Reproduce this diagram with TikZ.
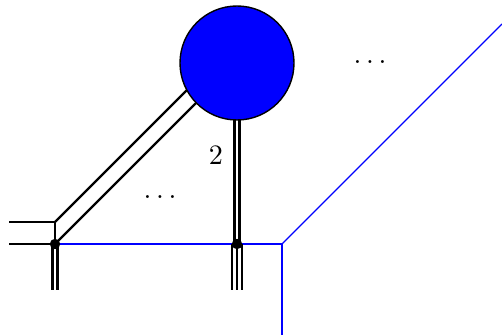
\documentclass[tikz,border=0pt]{standalone}
\usepackage{tikz}
\usetikzlibrary{calc,positioning}

\begin{document}
\begin{tikzpicture}[
  leg/.style={line width=0.8pt},
  bond/.style={blue, line width=0.4pt},
  vertex/.style={circle, fill=black, inner sep=0pt, minimum size=0.13cm}]
  \useasboundingbox (0,0) rectangle (6.275,4.1875);

  % corners of the lattice
  \coordinate (lc) at (0.6875,1.4125);
  \coordinate (bc) at (3.525,1.1375);
  \coordinate (bb) at (3.525,0);
  \coordinate (bt) at (6.275,3.8875);
  \coordinate (l1) at (0.1125,1.4125);
  \coordinate (l2) at (0.1125,1.1375);
  \coordinate (lb) at (0.6875,0.5625);
  \coordinate (rb) at (2.9625,0.5625);
  \coordinate (bcen) at (2.9625,3.4);

  % blue cut
  \draw[bond] (0.6875,1.1375) -- (bc) -- (bb);
  \draw[bond] (bc) -- (bt);

  % vertices
  \node[vertex] (lv) at (0.6875,1.1375) {};
  \node[vertex] (rv) at (2.9625,1.1375) {};

  % open legs on the left
  \draw[leg] (l1) -- (lc) -- (lv.center);
  \draw[leg] (l2) -- (lv.center);
  \draw[leg] ([xshift=-0.03cm]lv.center) -- ([xshift=-0.03cm]lb);
  \draw[leg] ([xshift=0.03cm]lv.center) -- ([xshift=0.03cm]lb);

  % legs to the blob
  \draw[leg] (lc) -- ++(45:2.45);
  \draw[leg] (lv.center) -- ++(45:2.65);
  \draw[leg] ([xshift=-0.03cm]rv.center) -- ([xshift=-0.03cm]bcen);
  \draw[leg] ([xshift=0.03cm]rv.center) -- ([xshift=0.03cm]bcen);
  \foreach \s in {-0.06,0,0.06}
    \draw[leg] ([xshift=\s cm]rv.center) -- ([xshift=\s cm]rb);

  % blob
  \node[circle, draw, fill=blue, line width=0.5pt, minimum size=1.425cm, inner sep=0pt] (ball) at (bcen) {};

  % labels
  \node (two) at (2.7,2.25) {2};
  \node (dl) at (2.0,1.725) {$\dots$};
  \node (dr) at (4.625,3.4125) {$\dots$};
\end{tikzpicture}
\end{document}
